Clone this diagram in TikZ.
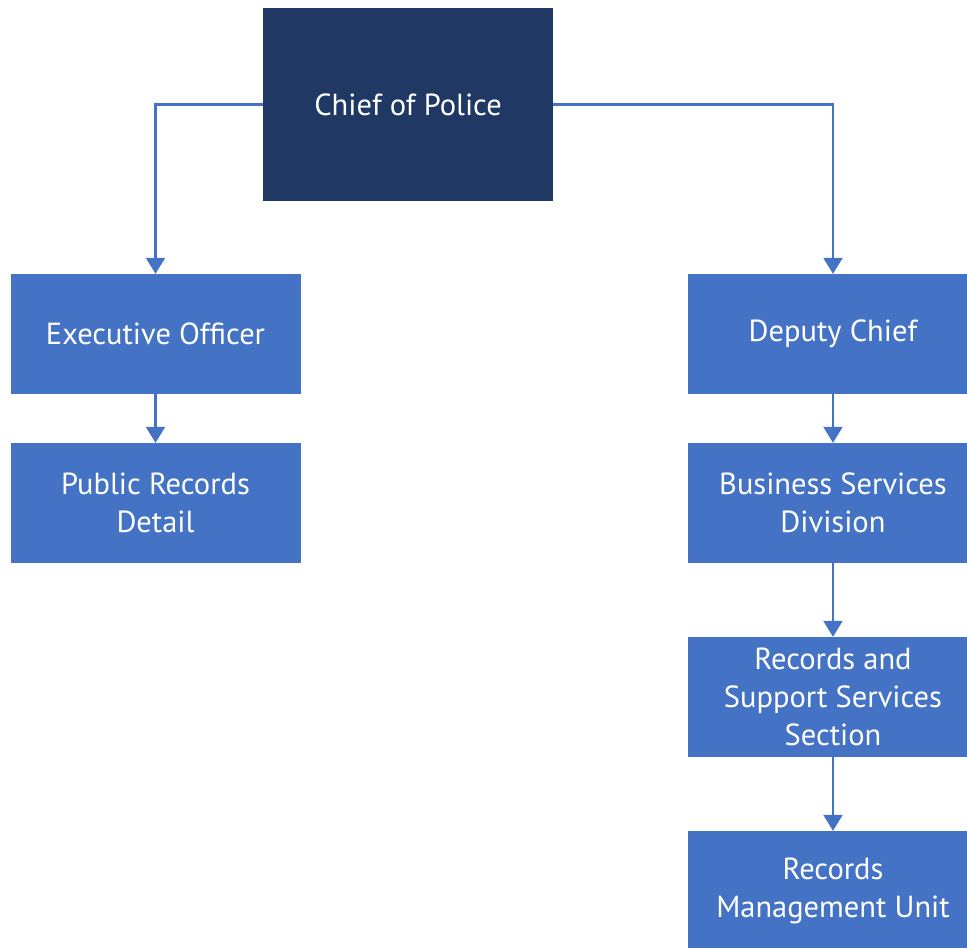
\documentclass[tikz,border=0pt]{standalone}
\usepackage{fontspec}
\setmainfont{PT Sans}
\usetikzlibrary{arrows.meta}
\definecolor{navy}{HTML}{203864}
\definecolor{unitblue}{HTML}{4472C4}
\tikzset{
  orgbox/.style={rectangle, fill=unitblue, text=white, minimum width=290pt,
    minimum height=120pt, inner sep=0pt, align=center,
    font=\fontsize{30.5}{38}\selectfont},
  headbox/.style={orgbox, fill=navy, minimum height=193pt},
  link/.style={draw=unitblue, line width=2.2pt,
    -{Triangle[width=19pt,length=16pt]}}
}
\begin{document}
\begin{tikzpicture}[x=1pt,y=-1pt]
  \useasboundingbox (0,0) rectangle (967,948);
  \clip (0,0) rectangle (967,948);
  \node[headbox] (chief) at (408,104.5) {Chief of Police};
  \node[orgbox] (exec) at (155.5,334) {Executive Officer};
  \node[orgbox] (prd) at (155.5,503) {Public Records\\Detail};
  \node[orgbox] (deputy) at (833,334) {Deputy Chief};
  \node[orgbox] (bsd) at (833,503) {Business Services\\Division};
  \node[orgbox] (rss) at (833,697) {Records and\\Support Services\\Section};
  \node[orgbox] (rmu) at (833,891) {Records\\Management Unit};
  \draw[link] (chief.west) -| (exec.north);
  \draw[link] (chief.east) -| (deputy.north);
  \draw[link] (exec.south) -- (prd.north);
  \draw[link] (deputy.south) -- (bsd.north);
  \draw[link] (bsd.south) -- (rss.north);
  \draw[link] (rss.south) -- (rmu.north);
\end{tikzpicture}
\end{document}
